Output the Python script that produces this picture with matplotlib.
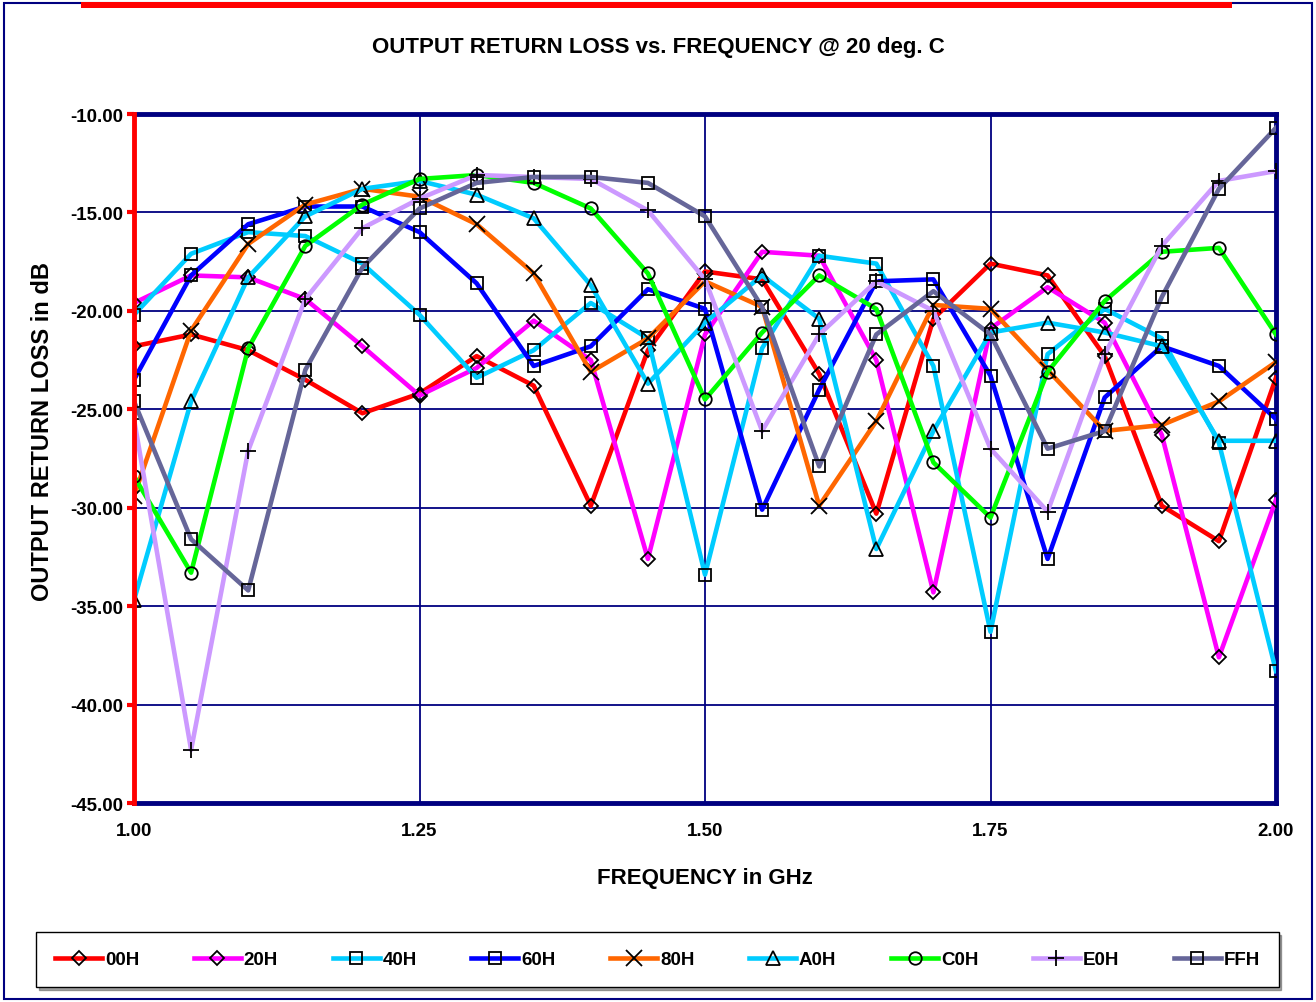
import numpy as np
import matplotlib.pyplot as plt
from matplotlib.patches import Rectangle

plt.rcParams['font.family'] = ['Liberation Sans', 'DejaVu Sans']
plt.rcParams['font.weight'] = 'bold'

# frequency points (GHz)
freq = [1.00, 1.05, 1.10, 1.15, 1.20, 1.25, 1.30, 1.35, 1.40, 1.45, 1.50,
        1.55, 1.60, 1.65, 1.70, 1.75, 1.80, 1.85, 1.90, 1.95, 2.00]

# output return loss (dB) per setting
rl_00 = [-21.8, -21.2, -22.0, -23.5, -25.2, -24.2, -22.3, -23.8, -29.9, -22.0, -18.0,
         -18.4, -23.2, -30.3, -20.4, -17.6, -18.2, -22.3, -29.9, -31.7, -23.4]
rl_20 = [-19.6, -18.2, -18.3, -19.4, -21.8, -24.3, -22.9, -20.5, -22.5, -32.6, -21.2,
         -17.0, -17.2, -22.5, -34.3, -20.9, -18.8, -20.6, -26.3, -37.6, -29.6]
rl_40 = [-20.2, -17.1, -16.0, -16.2, -17.6, -20.2, -23.4, -22.0, -19.6, -21.4, -33.4,
         -21.9, -17.2, -17.6, -22.8, -36.3, -22.2, -19.9, -21.4, -26.7, -38.3]
rl_60 = [-23.5, -18.2, -15.6, -14.7, -14.7, -16.0, -18.6, -22.8, -21.8, -18.9, -19.9,
         -30.1, -24.0, -18.5, -18.4, -23.3, -32.6, -24.4, -21.8, -22.8, -25.5]
rl_80 = [-29.4, -21.0, -16.6, -14.6, -13.8, -14.2, -15.6, -18.1, -23.1, -21.4, -18.5,
         -19.8, -29.9, -25.6, -19.7, -19.9, -23.0, -26.1, -25.8, -24.6, -22.6]
rl_a0 = [-34.7, -24.6, -18.3, -15.2, -13.8, -13.4, -14.1, -15.3, -18.7, -23.7, -20.6,
         -18.2, -20.4, -32.1, -26.1, -21.1, -20.6, -21.1, -21.8, -26.6, -26.6]
rl_c0 = [-28.4, -33.3, -21.9, -16.7, -14.6, -13.3, -13.1, -13.5, -14.8, -18.1, -24.5,
         -21.1, -18.2, -19.9, -27.7, -30.5, -23.1, -19.5, -17.0, -16.8, -21.2]
rl_e0 = [-25.5, -42.3, -27.1, -19.4, -15.8, -14.3, -13.1, -13.2, -13.3, -14.9, -18.4,
         -26.1, -21.2, -18.5, -20.0, -27.0, -30.2, -22.2, -16.7, -13.4, -12.9]
rl_ff = [-24.6, -31.6, -34.2, -23.0, -17.8, -14.8, -13.5, -13.2, -13.2, -13.5, -15.2,
         -19.8, -27.9, -21.2, -19.0, -21.2, -27.0, -26.1, -19.3, -13.8, -10.7]

labels = ['00H', '20H', '40H', '60H', '80H', 'A0H', 'C0H', 'E0H', 'FFH']
series = [rl_00, rl_20, rl_40, rl_60, rl_80, rl_a0, rl_c0, rl_e0, rl_ff]
colors = ['#FF0000', '#FF00FF', '#00CCFF', '#0000FF', '#FF6600',
          '#00CCFF', '#00FF00', '#CC99FF', '#666699']
markers = ['D', 'D', 's', 's', 'x', '^', 'o', '+', 's']
msizes = [7, 7, 9, 9, 11, 10, 9, 12, 9]

navy = '#000080'

fig = plt.figure(figsize=(13.16, 10.03), dpi=100)
ax = fig.add_axes([134 / 1316, 1 - 804 / 1003, (1276 - 134) / 1316, (804 - 115) / 1003])

for y, lab, c, m, ms in zip(series, labels, colors, markers, msizes):
    ax.plot(freq, y, color=c, lw=3.3, marker=m, markersize=ms,
            markerfacecolor='none', markeredgecolor='black', markeredgewidth=1.3,
            label=lab, zorder=3)

ax.set_xlim(1.0, 2.0)
ax.set_ylim(-45, -10)
ax.set_xticks([1.00, 1.25, 1.50, 1.75, 2.00])
ax.set_xticklabels(['%.2f' % v for v in [1.00, 1.25, 1.50, 1.75, 2.00]])
ax.set_yticks(np.arange(-45, -9, 5))
ax.set_yticklabels(['%.2f' % v for v in np.arange(-45, -9, 5)])

for v in [1.25, 1.50, 1.75]:
    ax.axvline(v, color=navy, lw=1.3, zorder=1)
for v in range(-40, -10, 5):
    ax.axhline(v, color=navy, lw=1.3, zorder=1)

for side in ['top', 'right', 'bottom']:
    ax.spines[side].set_color(navy)
    ax.spines[side].set_linewidth(3.5)
ax.spines['left'].set_color('#FF0000')
ax.spines['left'].set_linewidth(3.5)
ax.spines['left'].set_zorder(4)

ax.tick_params(axis='y', direction='out', length=5, width=3, color='#FF0000',
               labelsize=13.5, pad=3)
ax.tick_params(axis='x', length=0, labelsize=13.5, pad=14)

ax.set_xlabel('FREQUENCY in GHz', fontsize=16, fontweight='bold', labelpad=20)
ax.set_ylabel('OUTPUT RETURN LOSS in dB', fontsize=17, fontweight='bold')
ax.yaxis.set_label_coords(-0.07, 0.54)
fig.text(0.5, 1 - 48 / 1003, 'OUTPUT RETURN LOSS vs. FREQUENCY @ 20 deg. C',
         ha='center', va='center', fontsize=16, fontweight='bold')

leg = fig.legend(loc='center', ncol=9, mode='expand',
                 bbox_to_anchor=(27 / 1316, 15 / 1003, 1261 / 1316, 55 / 1003),
                 fontsize=13.5, handlelength=2.5, handletextpad=0.15,
                 frameon=True, fancybox=False, shadow=True, borderpad=1.0)
leg.get_frame().set_edgecolor('black')
leg.get_frame().set_linewidth(1.0)

# outer frame and the cut-off banner at the top
fig.patches.append(Rectangle((4 / 1316, 3 / 1003), 1308 / 1316, 996 / 1003,
                             transform=fig.transFigure, fill=False,
                             edgecolor=navy, lw=1.5))
fig.patches.append(Rectangle((81 / 1316, 1 - 9 / 1003), (1232 - 81) / 1316, 6 / 1003,
                             transform=fig.transFigure, color='#FF0000', lw=0))

fig.savefig('out.png', dpi=100)
